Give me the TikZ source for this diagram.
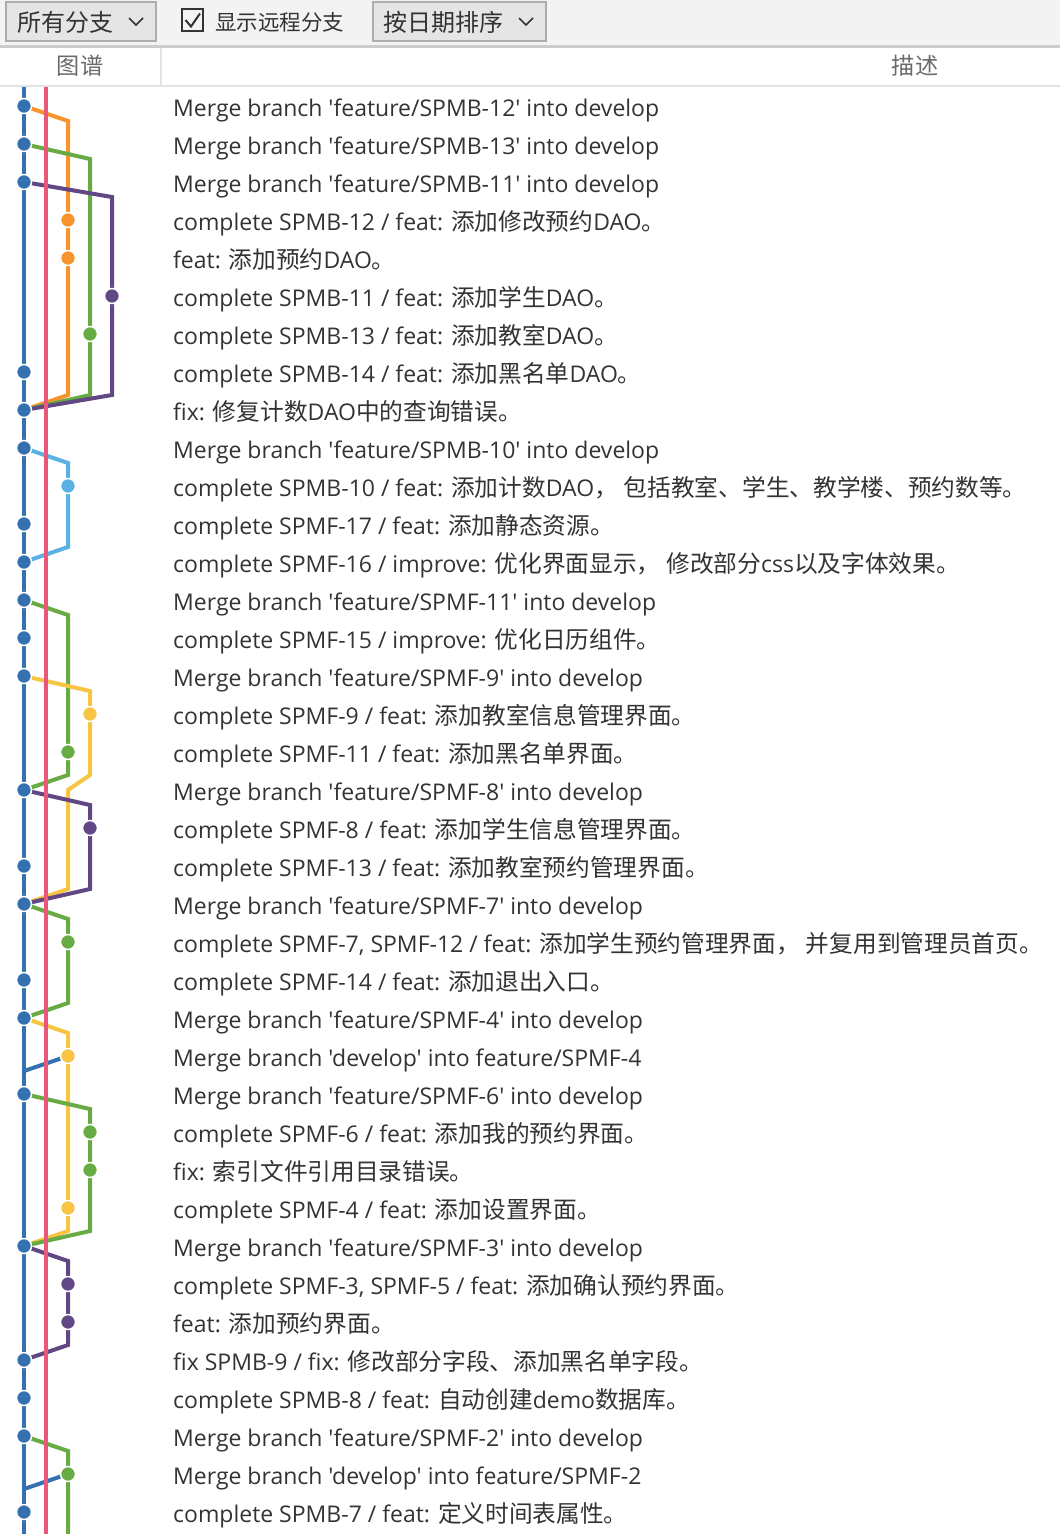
\documentclass[tikz,border=0pt]{standalone}
\usepackage{fontspec}
\setmainfont{Open Sans}
\newfontfamily\msgfont{Open Sans}
\newfontfamily\cjkfont{Noto Sans CJK SC}[Scale=1.03]
\usetikzlibrary{calc}

% switch to the CJK face for Chinese characters
\XeTeXinterchartokenstate=1
\newXeTeXintercharclass\cjkcls
\newcount\cjkidx
\cjkidx="4E00
\loop
  \XeTeXcharclass\cjkidx=\cjkcls
  \ifnum\cjkidx<"9FFF \advance\cjkidx by 1
\repeat
\XeTeXcharclass"3001=\cjkcls
\XeTeXcharclass"3002=\cjkcls
\XeTeXcharclass"FF0C=\cjkcls
\XeTeXinterchartoks 0 \cjkcls = {\cjkfont}
\XeTeXinterchartoks 4095 \cjkcls = {\cjkfont}
\XeTeXinterchartoks \cjkcls 0 = {\msgfont}
\XeTeXinterchartoks \cjkcls 4095 = {\msgfont}

\definecolor{gblue}{HTML}{3570B0}
\definecolor{gred}{HTML}{E9587A}
\definecolor{gorange}{HTML}{F7942D}
\definecolor{ggreen}{HTML}{68AB45}
\definecolor{gpurple}{HTML}{614884}
\definecolor{gsky}{HTML}{5BB1E3}
\definecolor{gyellow}{HTML}{F7C443}
\definecolor{msgtext}{HTML}{333333}
\definecolor{headtext}{HTML}{6A6A6A}
\definecolor{barbg}{HTML}{F3F3F3}
\definecolor{boxfill}{HTML}{E5E5E5}
\definecolor{boxline}{HTML}{ADADAD}
\definecolor{barline}{HTML}{CCCCCC}
\definecolor{headline}{HTML}{E3E3E3}

\pgfdeclarelayer{lanes}
\pgfsetlayers{lanes,main}

\tikzset{
  dot/.style={circle, inner sep=0pt, minimum size=15pt, draw=white, line width=1.5pt},
  lane/.style={line width=4pt},
  msg/.style={anchor=base west, inner sep=0pt, yshift=1pt, text=msgtext, font=\msgfont\fontsize{23}{23}\selectfont},
  combobox/.style={draw=boxline, fill=boxfill, line width=2pt, anchor=north west, inner sep=0pt},
  chev/.style={draw=msgtext, line width=1.6pt}
}

\begin{document}
\begin{tikzpicture}[x=1pt, y=-1pt]
    \useasboundingbox (0,0) rectangle (1060,1534);

    % Toolbar
    \fill[barbg] (0,0) rectangle (1060,45);
    \fill[barline] (0,45) rectangle (1060,47.5);
    \node[combobox, minimum width=150pt, minimum height=39pt] (branchbox) at (5,1) {};
    \node[anchor=west, inner sep=0pt, text=msgtext, font=\cjkfont\fontsize{23.3}{23.3}\selectfont] (branchtxt) at (17,22) {所有分支};
    \draw[chev] (129,18) -- (136,25) -- (143,18);
    \draw[draw=msgtext, line width=2pt] (182,9) rectangle (203,31);
    \draw[draw=msgtext, line width=2pt] (185.5,20) -- (191,26.5) -- (200,13.5);
    \node[anchor=west, inner sep=0pt, text=msgtext, font=\cjkfont\fontsize{20.9}{20.9}\selectfont] (remotetxt) at (215,22) {显示远程分支};
    \node[combobox, minimum width=173pt, minimum height=39pt] (sortbox) at (372,1) {};
    \node[anchor=west, inner sep=0pt, text=msgtext, font=\cjkfont\fontsize{23.3}{23.3}\selectfont] (sorttxt) at (383,22) {按日期排序};
    \draw[chev] (519,18) -- (526,25) -- (533,18);

    % Column header
    \fill[headline] (0,85) rectangle (1060,86.5);
    \fill[headline] (160,47.5) rectangle (161.5,85);
    \node[text=headtext, font=\cjkfont\fontsize{22.5}{22.5}\selectfont] (graphhead) at (80,66) {图谱};
    \node[text=headtext, font=\cjkfont\fontsize{22.5}{22.5}\selectfont] (deschead) at (915,66) {描述};

    % Commits on develop
    \foreach \r in {0,1,2,7,8,9,11,12,13,14,15,18,20,21,23,24,26,30,33,34,35,37}
        \node[dot, fill=gblue] (c\r) at (24,{106+38*\r}) {};
    % Commits on feature branches
    \foreach \r/\x/\c in {3/68/gorange, 4/68/gorange, 5/112/gpurple, 6/90/ggreen, 10/68/gsky,
                          16/90/gyellow, 17/68/ggreen, 19/90/gpurple, 22/68/ggreen, 25/68/gyellow,
                          27/90/ggreen, 28/90/ggreen, 29/68/gyellow, 31/68/gpurple, 32/68/gpurple, 36/68/ggreen}
        \node[dot, fill=\c] (c\r) at (\x,{106+38*\r}) {};

    \begin{pgfonlayer}{lanes}
    % develop
    \coordinate (devtop) at (24,87);
    \coordinate (devend) at (24,1534);
    \draw[lane, gblue] (devtop) -- (devend);

    % SPMB branches
    \draw[lane, gorange] (c0.center) -- ++(44,15) -- ($(c8.center)+(44,-15)$) -- (c8.center);
    \draw[lane, ggreen] (c1.center) -- ++(66,15) -- ($(c8.center)+(66,-15)$) -- (c8.center);
    \draw[lane, gpurple] (c2.center) -- ++(88,15) -- ($(c8.center)+(88,-15)$) -- (c8.center);
    \draw[lane, gsky] (c9.center) -- ++(44,15) -- ($(c12.center)+(44,-15)$) -- (c12.center);

    % SPMF branches
    \draw[lane, ggreen] (c13.center) -- ++(44,15) -- ($(c18.center)+(44,-15)$) -- (c18.center);
    \draw[lane, gyellow] (c15.center) -- ++(66,15) -- ($(c18.center)+(66,-15)$) -- ($(c18.center)+(44,0)$)
        -- ($(c21.center)+(44,-15)$) -- (c21.center);
    \draw[lane, gpurple] (c18.center) -- ++(66,15) -- ($(c21.center)+(66,-15)$) -- (c21.center);
    \draw[lane, ggreen] (c21.center) -- ++(44,15) -- ($(c24.center)+(44,-15)$) -- (c24.center);
    \draw[lane, gyellow] (c24.center) -- ++(44,15) -- ($(c30.center)+(44,-15)$) -- (c30.center);
    \draw[lane, gblue] (c25.center) -- ++(-44,15);
    \draw[lane, ggreen] (c26.center) -- ++(66,15) -- ($(c30.center)+(66,-15)$) -- (c30.center);
    \draw[lane, gpurple] (c30.center) -- ++(44,15) -- ($(c33.center)+(44,-15)$) -- (c33.center);
    \coordinate (spmf2end) at (68,1534);
    \draw[lane, ggreen] (c35.center) -- ++(44,15) -- (spmf2end);
    \draw[lane, gblue] (c36.center) -- ++(-44,15);

    % master
    \coordinate (mastertop) at (46,87);
    \coordinate (masterend) at (46,1534);
    \draw[lane, gred] (mastertop) -- (masterend);
    \end{pgfonlayer}

    % Commit messages
    \node[msg] (t0) at (173,117) {Merge branch 'feature/SPMB-12' into develop};
    \node[msg] (t1) at (173,155) {Merge branch 'feature/SPMB-13' into develop};
    \node[msg] (t2) at (173,193) {Merge branch 'feature/SPMB-11' into develop};
    \node[msg] (t3) at (173,231) {complete SPMB-12 / feat: 添加修改预约DAO。};
    \node[msg] (t4) at (173,269) {feat: 添加预约DAO。};
    \node[msg] (t5) at (173,307) {complete SPMB-11 / feat: 添加学生DAO。};
    \node[msg] (t6) at (173,345) {complete SPMB-13 / feat: 添加教室DAO。};
    \node[msg] (t7) at (173,383) {complete SPMB-14 / feat: 添加黑名单DAO。};
    \node[msg] (t8) at (173,421) {fix: 修复计数DAO中的查询错误。};
    \node[msg] (t9) at (173,459) {Merge branch 'feature/SPMB-10' into develop};
    \node[msg] (t10) at (173,497) {complete SPMB-10 / feat: 添加计数DAO， 包括教室、学生、教学楼、预约数等。};
    \node[msg] (t11) at (173,535) {complete SPMF-17 / feat: 添加静态资源。};
    \node[msg] (t12) at (173,573) {complete SPMF-16 / improve: 优化界面显示， 修改部分css以及字体效果。};
    \node[msg] (t13) at (173,611) {Merge branch 'feature/SPMF-11' into develop};
    \node[msg] (t14) at (173,649) {complete SPMF-15 / improve: 优化日历组件。};
    \node[msg] (t15) at (173,687) {Merge branch 'feature/SPMF-9' into develop};
    \node[msg] (t16) at (173,725) {complete SPMF-9 / feat: 添加教室信息管理界面。};
    \node[msg] (t17) at (173,763) {complete SPMF-11 / feat: 添加黑名单界面。};
    \node[msg] (t18) at (173,801) {Merge branch 'feature/SPMF-8' into develop};
    \node[msg] (t19) at (173,839) {complete SPMF-8 / feat: 添加学生信息管理界面。};
    \node[msg] (t20) at (173,877) {complete SPMF-13 / feat: 添加教室预约管理界面。};
    \node[msg] (t21) at (173,915) {Merge branch 'feature/SPMF-7' into develop};
    \node[msg] (t22) at (173,953) {complete SPMF-7, SPMF-12 / feat: 添加学生预约管理界面， 并复用到管理员首页。};
    \node[msg] (t23) at (173,991) {complete SPMF-14 / feat: 添加退出入口。};
    \node[msg] (t24) at (173,1029) {Merge branch 'feature/SPMF-4' into develop};
    \node[msg] (t25) at (173,1067) {Merge branch 'develop' into feature/SPMF-4};
    \node[msg] (t26) at (173,1105) {Merge branch 'feature/SPMF-6' into develop};
    \node[msg] (t27) at (173,1143) {complete SPMF-6 / feat: 添加我的预约界面。};
    \node[msg] (t28) at (173,1181) {fix: 索引文件引用目录错误。};
    \node[msg] (t29) at (173,1219) {complete SPMF-4 / feat: 添加设置界面。};
    \node[msg] (t30) at (173,1257) {Merge branch 'feature/SPMF-3' into develop};
    \node[msg] (t31) at (173,1295) {complete SPMF-3, SPMF-5 / feat: 添加确认预约界面。};
    \node[msg] (t32) at (173,1333) {feat: 添加预约界面。};
    \node[msg] (t33) at (173,1371) {fix SPMB-9 / fix: 修改部分字段、添加黑名单字段。};
    \node[msg] (t34) at (173,1409) {complete SPMB-8 / feat: 自动创建demo数据库。};
    \node[msg] (t35) at (173,1447) {Merge branch 'feature/SPMF-2' into develop};
    \node[msg] (t36) at (173,1485) {Merge branch 'develop' into feature/SPMF-2};
    \node[msg] (t37) at (173,1523) {complete SPMB-7 / feat: 定义时间表属性。};
\end{tikzpicture}
\end{document}
